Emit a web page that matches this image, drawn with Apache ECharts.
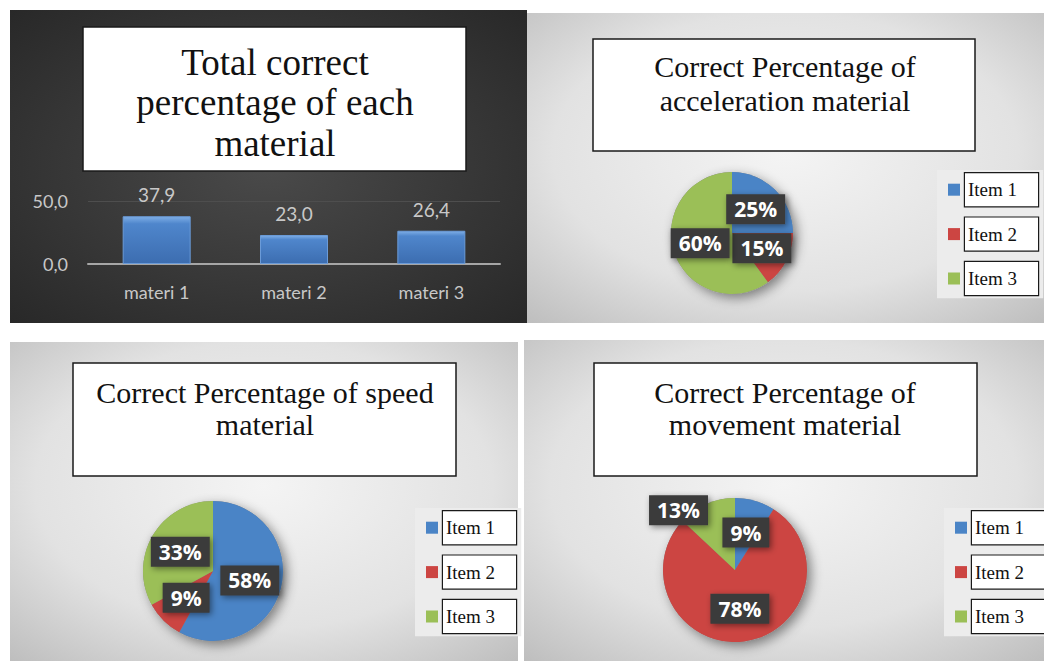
<!DOCTYPE html>
<html>
<head>
<meta charset="utf-8">
<script src="https://cdn.jsdelivr.net/npm/echarts@6/dist/echarts.min.js"></script>
<style>
  html, body { margin: 0; padding: 0; background: #fff; }
  #chart { width: 1044px; height: 661px; }
</style>
</head>
<body>
<div id="chart"></div>
<script>
// 数据
const materiNames = ['materi 1', 'materi 2', 'materi 3'];
const totalCorrect = [37.9, 23.0, 26.4];
const yTicks = [0, 50];
const itemNames = ['Item 1', 'Item 2', 'Item 3'];
const accelerationPct = [25, 15, 60];
const speedPct = [58, 9, 33];
const movementPct = [9, 78, 13];

const pieColors = ['#4a84c6', '#cc4542', '#9bbf57'];
const comma = v => Number(v).toFixed(1).replace('.', ',');

const chart = echarts.init(document.getElementById('chart'), null, { renderer: 'svg' });

// 面板背景
const lightBg = {
  type: 'radial', x: 0.5, y: 0.45, r: 0.75,
  colorStops: [{ offset: 0, color: '#f4f4f4' }, { offset: 0.6, color: '#e2e2e2' }, { offset: 1, color: '#bdbdbd' }]
};
const darkBg = {
  type: 'radial', x: 0.5, y: 0.5, r: 0.75,
  colorStops: [{ offset: 0, color: '#4a4a4a' }, { offset: 1, color: '#262626' }]
};
function panel(x, y, w, h, fill) {
  return { type: 'rect', z: -10, silent: true, shape: { x, y, width: w, height: h }, style: { fill } };
}
function titleBox(x, y, w, h) {
  return { type: 'rect', z: -5, silent: true, shape: { x, y, width: w, height: h }, style: { fill: '#fff', stroke: '#1a1a1a', lineWidth: 1.5 } };
}
function titleText(text, x, y, size, lh) {
  return {
    type: 'text', z: 10, silent: true, x, y,
    style: { text, font: size + 'px Liberation Serif, serif', lineHeight: lh, fill: '#111', align: 'center', verticalAlign: 'top' }
  };
}

// 图例
function legendAt(left, top) {
  return {
    orient: 'vertical', left, top,
    padding: [2, 4, 2, 11],
    backgroundColor: '#ececec',
    icon: 'rect', itemWidth: 12, itemHeight: 12, itemGap: 9,
    selectedMode: false,
    data: itemNames,
    textStyle: {
      fontFamily: 'Liberation Serif, serif', fontSize: 19, color: '#111',
      backgroundColor: '#fff', borderColor: '#1a1a1a', borderWidth: 1.2,
      width: 70, height: 22, lineHeight: 22, padding: [3, 0, 8, 3]
    }
  };
}

const pieLabel = {
  show: true, position: 'inside', formatter: '{c}%',
  color: '#fff', fontFamily: 'Open Sans, sans-serif', fontWeight: 'bold', fontSize: 21,
  backgroundColor: '#3a3a3a', padding: [5, 8, 4, 8],
  shadowColor: 'rgba(0,0,0,0.45)', shadowBlur: 6, shadowOffsetX: 2, shadowOffsetY: 2
};

function pieSeries(values, center, radius, offsets) {
  return {
    type: 'pie', center, radius, z: 3,
    startAngle: 90, clockwise: true,
    label: pieLabel, labelLine: { show: false },
    emphasis: { disabled: true },
    data: values.map((v, i) => ({
      name: itemNames[i], value: v,
      itemStyle: { color: pieColors[i] },
      label: offsets && offsets[i] ? { offset: offsets[i] } : {}
    }))
  };
}
// 饼图阴影底
function pieShadow(center, radius) {
  return {
    type: 'pie', center, radius, z: 2, silent: true,
    label: { show: false }, labelLine: { show: false },
    data: [{ name: '_shadow', value: 1, itemStyle: { color: '#888', shadowColor: 'rgba(0,0,0,0.45)', shadowBlur: 12, shadowOffsetX: 4, shadowOffsetY: 4 } }]
  };
}

const option = {
  animation: false,
  graphic: [
    panel(10, 10, 517, 313, darkBg),
    panel(527, 13, 517, 310, lightBg),
    panel(10, 342, 508, 319, lightBg),
    panel(524, 340, 520, 321, lightBg),
    titleBox(83, 27, 383, 144),
    titleBox(593, 39, 382, 112),
    titleBox(73, 363, 383, 113),
    titleBox(594, 363, 383, 113),
    titleText('Total correct\npercentage of each\nmaterial', 275, 42, 37, 40.5),
    titleText('Correct Percentage of\nacceleration material', 785, 49, 30, 34),
    titleText('Correct Percentage of speed\nmaterial', 265, 376, 30, 32),
    titleText('Correct Percentage of\nmovement material', 785, 376, 30, 32)
  ],
  legend: [legendAt(937, 170), legendAt(415, 508), legendAt(944, 508)],
  grid: { left: 88, top: 201, width: 412, height: 63 },
  xAxis: {
    type: 'category', data: materiNames,
    axisLine: { lineStyle: { color: '#a6a6a6', width: 2 } },
    axisTick: { show: false },
    axisLabel: { color: '#c8c8c8', fontSize: 18, fontFamily: 'Lato, sans-serif', margin: 19 }
  },
  yAxis: {
    type: 'value', min: yTicks[0], max: yTicks[yTicks.length - 1], interval: 50,
    axisLine: { show: false }, axisTick: { show: false },
    axisLabel: { color: '#c8c8c8', fontSize: 18, fontFamily: 'Lato, sans-serif', margin: 20, formatter: comma },
    splitLine: { lineStyle: { color: '#4e4e4e' } }
  },
  series: [
    {
      type: 'bar', data: totalCorrect, barWidth: 68,
      itemStyle: {
        color: {
          type: 'linear', x: 0, y: 0, x2: 0, y2: 1,
          colorStops: [{ offset: 0, color: '#7eaee6' }, { offset: 0.15, color: '#4f86cc' }, { offset: 1, color: '#3c6db0' }]
        },
        borderColor: '#6b9bd8', borderWidth: 1
      },
      label: { show: true, position: 'top', distance: 12, color: '#c8c8c8', fontSize: 19, fontFamily: 'Lato, sans-serif', formatter: p => comma(p.value) }
    },
    pieShadow([732, 233], 61),
    pieSeries(accelerationPct, [732, 233], 61),
    pieShadow([213, 571], 70),
    pieSeries(speedPct, [213, 571], 70),
    pieShadow([735, 570], 72),
    pieSeries(movementPct, [735, 570], 72, [null, null, [-41, -24]])
  ]
};
chart.setOption(option);
</script>
</body>
</html>
